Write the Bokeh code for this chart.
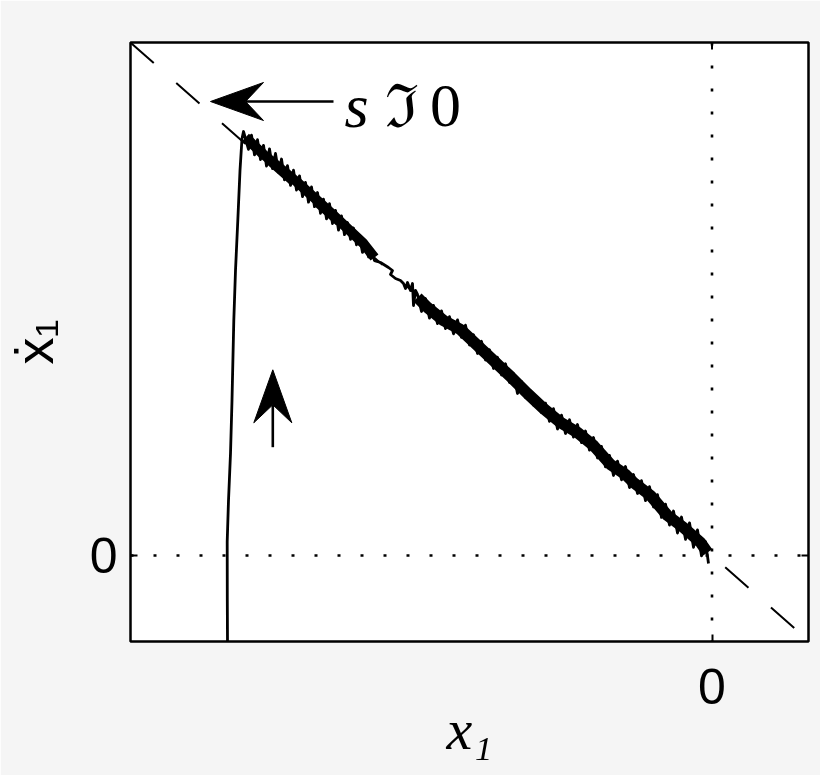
import math
from bokeh.plotting import figure
from bokeh.models import Range1d, FixedTicker
from bokeh.embed import file_html
from bokeh.resources import INLINE
from bokeh.core.properties import value

# ---------------- data ----------------
x_lim = [-5.815, 0.965]
y_lim = [-0.86, 5.13]
tick_vals = [0]
lam = 0.882                      # sliding surface s = x1dot + lam*x1 = 0
s0_x = [-5.815, 0.965]

# reaching phase
reach_x = [-4.842, -4.845, -4.847, -4.848, -4.835, -4.815, -4.800, -4.782,
           -4.765, -4.742, -4.720, -4.700, -4.685]
reach_y = [-1.10, -0.86, -0.45, 0.14, 0.55, 1.02, 1.55, 2.35,
           2.85, 3.35, 3.85, 4.17, 4.24]

# chattering, first part of the sliding phase
top_x = [-4.635, -4.605, -4.575, -4.545, -4.515, -4.485, -4.455, -4.425, -4.395,
         -4.365, -4.335, -4.305, -4.275, -4.245, -4.215, -4.185, -4.155, -4.125,
         -4.095, -4.065, -4.035, -4.005, -3.975, -3.945, -3.915, -3.885, -3.855,
         -3.825, -3.795, -3.765, -3.735, -3.705, -3.675, -3.645, -3.615, -3.585,
         -3.555, -3.525, -3.495, -3.465, -3.435, -3.405, -3.375]
top_y = [4.062, 4.204, 4.006, 4.158, 3.960, 4.102, 3.894, 4.067, 3.869,
         4.021, 3.833, 3.965, 3.757, 3.899, 3.701, 3.853, 3.655, 3.797,
         3.589, 3.731, 3.533, 3.686, 3.488, 3.630, 3.422, 3.564, 3.366,
         3.518, 3.320, 3.452, 3.254, 3.396, 3.208, 3.330, 3.162, 3.275,
         3.107, 3.189, 3.031, 3.113, 2.985, 3.047, 2.949]

# quiet stretch
wig_x = [-3.315, -3.235, -3.195, -3.215, -3.165, -3.115,
         -3.085, -3.065, -3.045, -3.015, -2.995, -2.985, -2.965]
wig_y = [2.93, 2.88, 2.85, 2.81, 2.77, 2.75,
         2.72, 2.67, 2.73, 2.65, 2.72, 2.50, 2.65]

# chattering, second part of the sliding phase
mid_x = [-2.945, -2.905, -2.865, -2.825, -2.785, -2.745, -2.705, -2.665, -2.625,
         -2.585, -2.545, -2.505, -2.465, -2.425, -2.385, -2.345, -2.305, -2.265,
         -2.225, -2.185, -2.145, -2.105, -2.065, -2.025, -1.985, -1.945, -1.905,
         -1.865, -1.825, -1.785, -1.745, -1.705, -1.665, -1.625, -1.585, -1.545,
         -1.505, -1.465, -1.425, -1.385, -1.345, -1.305, -1.265, -1.225, -1.185,
         -1.145, -1.105, -1.065, -1.025, -0.985, -0.945, -0.905, -0.865, -0.825,
         -0.785, -0.745, -0.705, -0.665, -0.625, -0.585, -0.545, -0.505, -0.465,
         -0.425, -0.385, -0.345, -0.305, -0.265, -0.225, -0.185, -0.145, -0.105,
         -0.065, -0.035]
mid_y = [2.61, 2.44, 2.57, 2.374, 2.501, 2.319, 2.446, 2.269, 2.388,
         2.217, 2.356, 2.181, 2.303, 2.105, 2.208, 2.02, 2.142, 1.955,
         2.058, 1.87, 1.982, 1.805, 1.917, 1.73, 1.82, 1.62, 1.74,
         1.58, 1.651, 1.504, 1.576, 1.429, 1.524, 1.341, 1.468, 1.265,
         1.404, 1.22, 1.357, 1.184, 1.31, 1.128, 1.245, 1.053, 1.18,
         0.975, 1.091, 0.886, 1.001, 0.80, 0.944, 0.757, 0.89, 0.68,
         0.81, 0.62, 0.748, 0.548, 0.688, 0.485, 0.608, 0.381, 0.514,
         0.305, 0.445, 0.225, 0.385, 0.162, 0.327, 0.082, 0.256, -0.004,
         0.139, -0.08]

# mean path of the chattering bands
core1_x = [-4.665, -4.485, -4.145, -3.815, -3.485, -3.375]
core1_y = [4.18, 4.01, 3.73, 3.43, 3.12, 2.98]
core2_x = [-2.945, -2.845, -2.685, -2.515, -2.345, -2.185, -2.015, -1.845, -1.685,
           -1.515, -1.345, -1.185, -1.015, -0.865, -0.785, -0.615, -0.445, -0.285,
           -0.115, -0.045]
core2_y = [2.58, 2.48, 2.35, 2.26, 2.10, 1.95, 1.79, 1.62, 1.47,
           1.33, 1.23, 1.10, 0.91, 0.81, 0.73, 0.60, 0.40, 0.28,
           0.13, 0.03]

# arrows: (tail, tip)
arrow_h = dict(x0=-3.785, y0=4.54, x1=-5.015, y1=4.54)
arrow_v = dict(x0=-4.392, y0=1.083, x1=-4.392, y1=1.857)

# annotation text
ann_parts = ["s", "ℑ", "0"]
ann_x = [-3.675, -3.27, -2.82]
ann_y = 4.50

x_title = "x₁"
y_title = "ẋ₁"

# ---------------- style ----------------
BG = "#f5f5f5"
INK = "black"
HEAD_LEN, HEAD_HALF, HEAD_NOTCH = 0.53, 0.19, 0.35   # data units (1 unit = 100 px)
TICK = 0.07

p = figure(width=820, height=775, x_range=Range1d(*x_lim), y_range=Range1d(*y_lim),
           output_backend="svg", toolbar_location=None,
           min_border_left=130, min_border_right=12, min_border_top=42,
           min_border_bottom=134)
p.xgrid.visible = False
p.ygrid.visible = False
p.background_fill_color = "white"
p.border_fill_color = BG
p.outline_line_color = INK
p.outline_line_width = 2.5

for ax in p.axis:
    ax.ticker = FixedTicker(ticks=tick_vals)
    ax.minor_tick_line_color = None
    ax.major_tick_in = 7
    ax.major_tick_out = 0
    ax.major_tick_line_width = 2
    ax.major_tick_line_color = INK
    ax.axis_line_color = None
    ax.major_label_text_font = "Liberation Sans"
    ax.major_label_text_font_size = "50px"
    ax.major_label_text_color = INK
p.xaxis[0].major_label_standoff = 27
p.yaxis[0].major_label_standoff = 13

p.xaxis[0].axis_label = x_title
p.xaxis[0].axis_label_text_font = "Liberation Serif"
p.xaxis[0].axis_label_text_font_style = "italic"
p.xaxis[0].axis_label_text_font_size = "58px"
p.xaxis[0].axis_label_text_color = INK
p.xaxis[0].axis_label_standoff = -10

p.yaxis[0].axis_label = y_title
p.yaxis[0].axis_label_text_font = "Liberation Sans"
p.yaxis[0].axis_label_text_font_style = "normal"
p.yaxis[0].axis_label_text_font_size = "54px"
p.yaxis[0].axis_label_text_color = INK
p.yaxis[0].axis_label_standoff = 23

# inward ticks on the top and right edges of the box
p.segment(x0=tick_vals, y0=[y_lim[1]] * len(tick_vals), x1=tick_vals,
          y1=[y_lim[1] - TICK] * len(tick_vals), line_color=INK, line_width=2)
p.segment(x0=[x_lim[1]] * len(tick_vals), y0=tick_vals, x1=[x_lim[1] - TICK] * len(tick_vals),
          y1=tick_vals, line_color=INK, line_width=2)

# reference lines
p.line([x_lim[0], x_lim[1]], [0, 0], line_color=INK, line_width=2.6, line_dash="3 20")
p.line([0, 0], [y_lim[1], y_lim[0]], line_color=INK, line_width=2.6, line_dash="3 20")
p.line(s0_x, [-lam * v for v in s0_x], line_color=INK, line_width=2, line_dash="31 30")

# trajectory
traj_x = reach_x + top_x + wig_x + mid_x
traj_y = reach_y + top_y + wig_y + mid_y
p.line(core1_x, core1_y, line_color=INK, line_width=10, line_join="round", line_cap="butt")
p.line(core2_x, core2_y, line_color=INK, line_width=11.5, line_join="round", line_cap="butt")
p.line(traj_x, traj_y, line_color=INK, line_width=2.8, line_join="round")

# arrows
def draw_arrow(a):
    dx, dy = a["x1"] - a["x0"], a["y1"] - a["y0"]
    L = math.hypot(dx, dy)
    ux, uy = dx / L, dy / L
    nx, ny = -uy, ux
    tx, ty = a["x1"], a["y1"]
    bx, by = tx - HEAD_LEN * ux, ty - HEAD_LEN * uy
    mx, my = tx - HEAD_NOTCH * ux, ty - HEAD_NOTCH * uy
    p.line([a["x0"], mx], [a["y0"], my], line_color=INK, line_width=2.6)
    p.patch([tx, bx + HEAD_HALF * nx, mx, bx - HEAD_HALF * nx],
            [ty, by + HEAD_HALF * ny, my, by - HEAD_HALF * ny],
            fill_color=INK, line_color=INK, line_width=1)

draw_arrow(arrow_h)
draw_arrow(arrow_v)

# s = 0 annotation
p.text(x=[ann_x[0]], y=[ann_y], text=[ann_parts[0]], text_font=value("Liberation Serif"),
       text_font_style="italic", text_font_size="62px", text_color=INK,
       text_baseline="alphabetic", text_align="left")
p.text(x=[ann_x[1]], y=[ann_y], text=[ann_parts[1]], text_font=value("DejaVu Serif"),
       text_font_size="60px", text_color=INK,
       text_baseline="alphabetic", text_align="left")
p.text(x=[ann_x[2]], y=[ann_y], text=[ann_parts[2]], text_font=value("Liberation Serif"),
       text_font_size="62px", text_color=INK,
       text_baseline="alphabetic", text_align="left")

html = file_html(p, INLINE)
html = html.replace("<body>", '<body style="background-color:%s;">' % BG, 1)
open("out.html", "w").write(html)
